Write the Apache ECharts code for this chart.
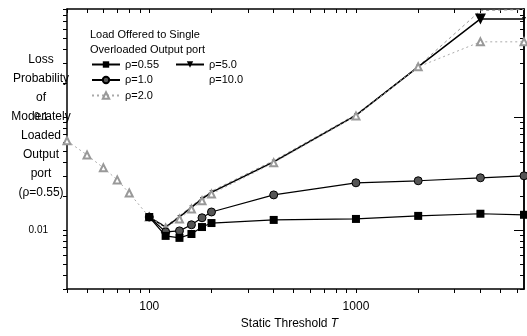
<!DOCTYPE html>
<html><head><meta charset="utf-8">
<script src="https://cdn.jsdelivr.net/npm/echarts@6/dist/echarts.min.js"></script>
<style>html,body{margin:0;padding:0;background:#fff}#c{width:527px;height:336px}</style>
</head><body><div id="c"></div>
<script>
const xValues = [40, 50, 60, 70, 80, 100, 120, 140, 160, 180, 200, 400, 1000, 2000, 4000, 6500];
const rho055 = [null, null, null, null, null, 0.0130, 0.00885, 0.0085, 0.0092, 0.0106, 0.0115, 0.01225, 0.0125, 0.0133, 0.0139, 0.0136];
const rho1 = [null, null, null, null, null, 0.0130, 0.0096, 0.0098, 0.0111, 0.0128, 0.0144, 0.0204, 0.0261, 0.0272, 0.0289, 0.0301];
const rho2 = [0.0614, 0.046, 0.0354, 0.0277, 0.0212, 0.0130, 0.0104, 0.0125, 0.0153, 0.0181, 0.0208, 0.0392, 0.102, 0.277, 0.461, 0.461];
const rho5 = [null, null, null, null, null, 0.0130, 0.0106, 0.0130, 0.0158, 0.0188, 0.0215, 0.040, 0.103, 0.277, 0.736, 0.736];
const rho10 = [null, null, null, null, null, 0.0130, 0.0108, 0.0133, 0.0162, 0.0193, 0.022, 0.041, 0.105, 0.28, 0.87, 0.89];
const seriesNames = ['ρ=0.55', 'ρ=1.0', 'ρ=2.0', 'ρ=5.0', 'ρ=10.0'];
const xTickValues = [40, 50, 60, 70, 80, 90, 100, 200, 300, 400, 500, 600, 700, 800, 900, 1000, 2000, 3000, 4000, 5000, 6000];
const xLabelValues = [100, 1000];
const yTickValues = [0.003, 0.004, 0.005, 0.006, 0.007, 0.008, 0.009, 0.01, 0.02, 0.03, 0.04, 0.05, 0.06, 0.07, 0.08, 0.09, 0.1, 0.2, 0.3, 0.4, 0.5, 0.6, 0.7, 0.8, 0.9];
const yLabelValues = [0.01, 0.1];
const yMajorValues = [0.01, 0.1];

const FONT = 'Liberation Sans';
function pairs(arr) {
  const out = [];
  arr.forEach((v, i) => { if (v !== null) out.push([xValues[i], v]); });
  return out;
}
const X_MIN = 40, X_MAX = 6500, Y_MIN = 0.003, Y_MAX = 0.9;
const lineAx = { show: true, lineStyle: { color: '#000', width: 1.5 } };
function xAx(pos, inside, showLabel) {
  return {
    type: 'log', position: pos, min: X_MIN, max: X_MAX, gridIndex: 0,
    axisLine: lineAx,
    axisTick: { show: true, inside: inside, length: 4, customValues: xTickValues, lineStyle: { color: '#000', width: 1 } },
    axisLabel: showLabel ? { show: true, customValues: xLabelValues, margin: 12, fontSize: 12, color: '#000', fontFamily: FONT, formatter: v => String(v) } : { show: false },
    splitLine: { show: false }, minorTick: { show: false }
  };
}
function yAx(pos, inside, len, ticks, showLabel) {
  return {
    type: 'log', position: pos, min: Y_MIN, max: Y_MAX, gridIndex: 0,
    axisLine: lineAx,
    axisTick: { show: true, inside: inside, length: len, customValues: ticks, lineStyle: { color: '#000', width: 1 } },
    axisLabel: showLabel ? { show: true, customValues: yLabelValues, margin: 19, fontSize: 10, color: '#000', fontFamily: FONT, formatter: v => String(v) } : { show: false },
    splitLine: { show: false }, minorTick: { show: false }
  };
}
const xa0 = xAx('bottom', false, true);
xa0.name = 'Static Threshold {i|T}';
xa0.nameLocation = 'middle';
xa0.nameGap = 29;
xa0.nameTextStyle = { fontSize: 12, color: '#000', fontFamily: FONT, padding: [0, 12, 0, 0], rich: { i: { fontStyle: 'italic', fontSize: 12, fontFamily: FONT } } };

const option = {
  animation: false,
  backgroundColor: '#fff',
  grid: { left: 67, right: 3, top: 9, bottom: 47 },
  xAxis: [xa0, xAx('top', true, false)],
  yAxis: [
    yAx('left', false, 4, yTickValues, true),
    yAx('right', true, 4, yTickValues, false),
    yAx('right', true, 10, yMajorValues, false)
  ],
  legend: [
    { left: 86, top: 54, orient: 'vertical', itemWidth: 28, itemHeight: 8, itemGap: 4.5, data: [seriesNames[0], seriesNames[1], seriesNames[2]],
      textStyle: { fontSize: 11, color: '#000', fontFamily: FONT } },
    { left: 170, top: 54, orient: 'vertical', itemWidth: 28, itemHeight: 8, itemGap: 4.5,
      data: [seriesNames[3], { name: seriesNames[4], itemStyle: { opacity: 0 }, lineStyle: { opacity: 0 } }],
      textStyle: { fontSize: 11, color: '#000', fontFamily: FONT } }
  ],
  graphic: [
    { type: 'text', left: 90, top: 27.5, style: { text: 'Load Offered to Single\nOverloaded Output port', fontSize: 11, lineHeight: 15, fill: '#000', fontFamily: FONT } },
    { type: 'text', x: 41, y: 50, style: { text: 'Loss\nProbability\nof\nModerately\nLoaded\nOutput\nport\n(ρ=0.55)', align: 'center', fontSize: 12, lineHeight: 19, fill: '#000', fontFamily: FONT } }
  ],
  series: [
    { name: seriesNames[4], type: 'line', data: pairs(rho10), symbol: 'none', lineStyle: { color: '#999', width: 1, type: [3, 3] }, itemStyle: { color: '#999' }, z: 2 },
    { name: seriesNames[3], type: 'line', data: pairs(rho5), symbol: 'triangle', symbolRotate: 180,
      symbolSize: (v) => (v[0] === 4000 ? 11 : 4),
      lineStyle: { color: '#000', width: 1.5 }, itemStyle: { color: '#000' }, z: 3 },
    { name: seriesNames[2], type: 'line', data: pairs(rho2), symbol: 'emptyTriangle', symbolSize: 7,
      lineStyle: { color: '#aaa', width: 1, type: [2, 3] }, itemStyle: { color: '#999', borderWidth: 1 }, z: 4 },
    { name: seriesNames[1], type: 'line', data: pairs(rho1), symbol: 'circle', symbolSize: 8,
      lineStyle: { color: '#000', width: 1.2 }, itemStyle: { color: '#555', borderColor: '#000', borderWidth: 1 }, z: 5 },
    { name: seriesNames[0], type: 'line', data: pairs(rho055), symbol: 'rect', symbolSize: 8,
      lineStyle: { color: '#000', width: 1.2 }, itemStyle: { color: '#000' }, z: 6 }
  ]
};
option.series.forEach(s => { s.xAxisIndex = 0; s.yAxisIndex = 0; s.clip = true; });
const chart = echarts.init(document.getElementById('c'), null, { renderer: 'canvas' });
chart.setOption(option);
</script></body></html>
